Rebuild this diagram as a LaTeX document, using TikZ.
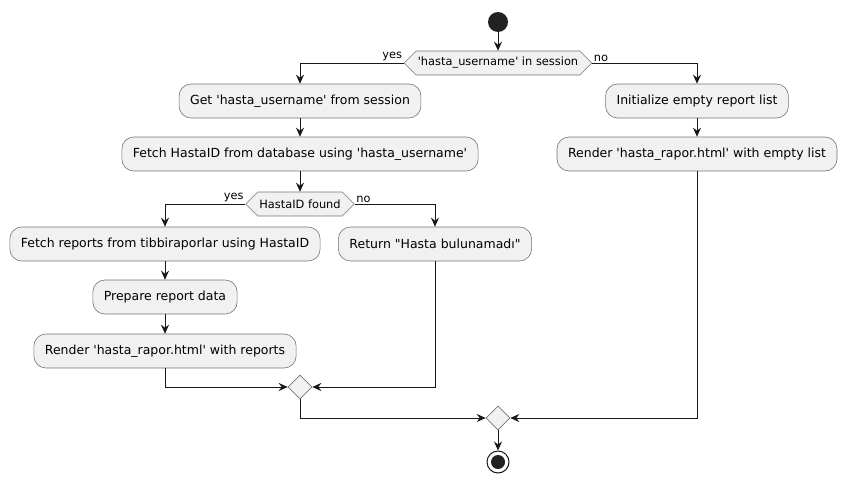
\documentclass[tikz,border=0pt]{standalone}
\usepackage{fontspec}
\setmainfont{DejaVu Sans}
\usetikzlibrary{arrows.meta,shapes.geometric,shapes.symbols}
\definecolor{umlfill}{HTML}{F1F1F1}
\definecolor{umlline}{HTML}{181818}
\definecolor{umldot}{HTML}{222222}
\newcommand{\sqt}{\textquotesingle}
\newcommand{\dqt}{\textquotedbl}
\tikzset{
  activity/.style={draw=umlline!60, line width=0.6pt, fill=umlfill, rounded corners=12pt,
    minimum height=34pt, inner xsep=11pt, font=\fontsize{12.5}{14}\selectfont},
  branch/.style={shape=signal, signal to=west and east, signal pointer angle=90,
    draw=umlline!60, line width=0.6pt, fill=umlfill, minimum height=24pt, inner xsep=1.5pt,
    font=\fontsize{11.4}{13}\selectfont},
  merge/.style={diamond, draw=umlline!60, line width=0.6pt, fill=umlfill,
    minimum width=24pt, minimum height=24pt, inner sep=0pt},
  flow/.style={draw=umlline, line width=1pt, -{Stealth[length=9pt,width=8pt,inset=3pt]}},
  guard/.style={font=\fontsize{11.4}{13}\selectfont, inner sep=1.5pt},
}
\begin{document}
\begin{tikzpicture}[x=1pt,y=-1pt]
  \useasboundingbox (0,0) rectangle (845,479);
  \node[circle, fill=umldot, minimum size=20pt, inner sep=0pt] (start) at (498,22) {};
  \node[branch] (d1) at (498,63) {\sqt hasta\_username\sqt{} in session};
  % yes branch
  \node[activity] (get) at (300,101) {Get \sqt hasta\_username\sqt{} from session};
  \node[activity] (fetchid) at (300,154) {Fetch HastaID from database using \sqt hasta\_username\sqt};
  \node[branch] (d2) at (300,204) {HastaID found};
  \node[activity] (fetchrep) at (165,244) {Fetch reports from tibbiraporlar using HastaID};
  \node[activity] (prep) at (165,297) {Prepare report data};
  \node[activity] (render) at (165,351) {Render \sqt hasta\_rapor.html\sqt{} with reports};
  \node[activity] (ret) at (435,244) {Return \dqt Hasta bulunamadı\dqt};
  \node[merge] (m1) at (300,387) {};
  % no branch
  \node[activity] (init) at (697,101) {Initialize empty report list};
  \node[activity] (rendempty) at (697,154) {Render \sqt hasta\_rapor.html\sqt{} with empty list};
  \node[merge] (m2) at (498,418) {};
  \node[circle, draw=umlline, line width=1pt, fill=white, minimum size=22pt, inner sep=0pt] (stop) at (498,462) {};
  \node[circle, fill=umldot, minimum size=14pt, inner sep=0pt] (stopdot) at (stop) {};

  \draw[flow] (start) -- (d1.north);
  \draw[flow] (d1.west) -| (get.north);
  \node[guard, above left] (yes1) at (d1.west) {yes};
  \draw[flow] (d1.east) -| (init.north);
  \node[guard, above right] (no1) at (d1.east) {no};
  \draw[flow] (get) -- (fetchid);
  \draw[flow] (fetchid) -- (d2.north);
  \draw[flow] (d2.west) -| (fetchrep.north);
  \node[guard, above left] (yes2) at (d2.west) {yes};
  \draw[flow] (d2.east) -| (ret.north);
  \node[guard, above right] (no2) at (d2.east) {no};
  \draw[flow] (fetchrep) -- (prep);
  \draw[flow] (prep) -- (render);
  \draw[flow] (render.south) |- (m1.west);
  \draw[flow] (ret.south) |- (m1.east);
  \draw[flow] (m1.south) |- (m2.west);
  \draw[flow] (init) -- (rendempty);
  \draw[flow] (rendempty.south) |- (m2.east);
  \draw[flow] (m2.south) -- (stop.north);
\end{tikzpicture}
\end{document}
